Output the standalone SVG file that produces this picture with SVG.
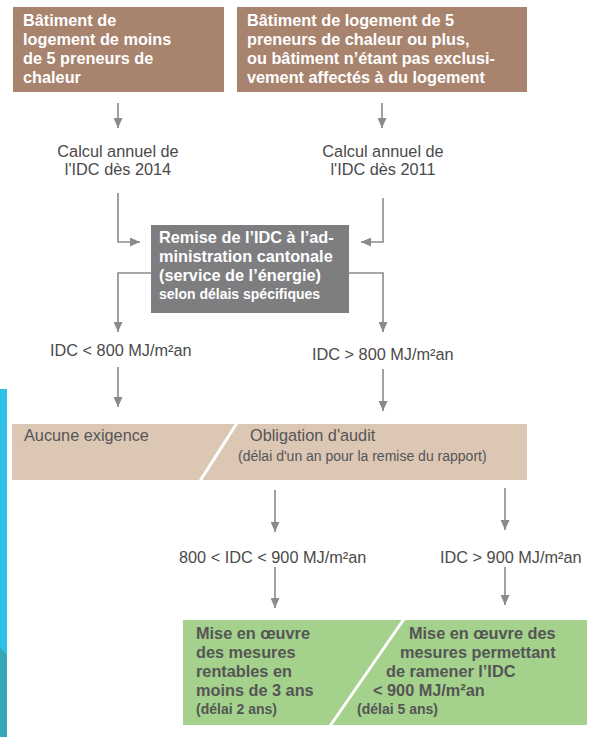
<svg xmlns="http://www.w3.org/2000/svg" width="589" height="737" viewBox="0 0 589 737">
<defs>
<marker id="ah" markerUnits="userSpaceOnUse" markerWidth="10" markerHeight="9" refX="10" refY="4.5" orient="auto">
<path d="M0,0 L10,4.5 L0,9 z" fill="#8a8a8c"/>
</marker>
<style>
.t{font-family:"Liberation Sans",Arial,sans-serif;font-size:16.3px}
.b{font-weight:bold}
.w{fill:#ffffff}
.g{fill:#4a4a4a}
.d{fill:#555555}
.s{font-size:14px}
.c{fill:none;stroke:#8a8a8c;stroke-width:1.6;marker-end:url(#ah)}
</style>
</defs>
<rect width="589" height="737" fill="#ffffff"/>
<g id="edge-strip">
<rect x="0" y="389" width="7" height="348" fill="#2fc0e7"/>
<polygon points="0,647 7,655 7,737 0,737" fill="#34a8b8"/>
</g>
<g id="connectors">
<path class="c" d="M118,103 V128"/>
<path class="c" d="M382,103 V128"/>
<path class="c" d="M118,193 V242 H140"/>
<path class="c" d="M383,198 V242 H361"/>
<path class="c" d="M151,273 H118 V332"/>
<path class="c" d="M349,273 H383 V332"/>
<path class="c" d="M118,367 V407"/>
<path class="c" d="M383,369 V411"/>
<path class="c" d="M275,490 V532"/>
<path class="c" d="M505,488 V530"/>
<path class="c" d="M275,567 V608"/>
<path class="c" d="M505,567 V605"/>
</g>
<g id="box-moins5">
<rect x="13" y="7" width="211" height="85" fill="#a8836d"/>
<text class="t b w" x="23" y="26">Bâtiment de</text>
<text class="t b w" x="23" y="45">logement de moins</text>
<text class="t b w" x="23" y="64">de 5 preneurs de</text>
<text class="t b w" x="23" y="83">chaleur</text>
</g>
<g id="box-plus5">
<rect x="237" y="7" width="290" height="85" fill="#a8836d"/>
<text class="t b w" x="247" y="26">Bâtiment de logement de 5</text>
<text class="t b w" x="247" y="45">preneurs de chaleur ou plus,</text>
<text class="t b w" x="247" y="64">ou bâtiment n’étant pas exclusi-</text>
<text class="t b w" x="247" y="83">vement affectés à du logement</text>
</g>
<g id="calc-2014">
<text class="t g" x="118" y="157" text-anchor="middle">Calcul annuel de</text>
<text class="t g" x="118" y="175" text-anchor="middle">l'IDC dès 2014</text>
</g>
<g id="calc-2011">
<text class="t g" x="383" y="157" text-anchor="middle">Calcul annuel de</text>
<text class="t g" x="383" y="175" text-anchor="middle">l'IDC dès 2011</text>
</g>
<g id="remise">
<rect x="151" y="225" width="198" height="88" fill="#7e7e80"/>
<text class="t b w" x="159" y="243">Remise de l’IDC à l’ad-</text>
<text class="t b w" x="159" y="262">ministration cantonale</text>
<text class="t b w" x="159" y="281">(service de l’énergie)</text>
<text class="t b w s" x="159" y="299">selon délais spécifiques</text>
</g>
<g id="idc-lt-800">
<text class="t g" x="50" y="356">IDC &lt; 800 MJ/m²an</text>
</g>
<g id="idc-gt-800">
<text class="t g" x="312" y="360">IDC &gt; 800 MJ/m²an</text>
</g>
<g id="exigence-audit">
<rect x="12" y="424" width="515" height="56" fill="#dcc7b5"/>
<line x1="237" y1="423" x2="200" y2="481" stroke="#ffffff" stroke-width="3"/>
<text class="t d" x="24" y="441">Aucune exigence</text>
<text class="t d" x="250" y="441">Obligation d'audit</text>
<text class="t d s" x="238" y="461">(délai d'un an pour la remise du rapport)</text>
</g>
<g id="idc-800-900">
<text class="t g" x="179" y="563">800 &lt; IDC &lt; 900 MJ/m²an</text>
</g>
<g id="idc-gt-900">
<text class="t g" x="440" y="563">IDC &gt; 900 MJ/m²an</text>
</g>
<g id="mesures">
<rect x="183" y="620" width="404" height="105" fill="#a4d18c"/>
<line x1="404" y1="619" x2="330" y2="726" stroke="#ffffff" stroke-width="3"/>
<text class="t b d" x="196" y="639">Mise en œuvre</text>
<text class="t b d" x="196" y="658">des mesures</text>
<text class="t b d" x="196" y="677">rentables en</text>
<text class="t b d" x="196" y="696">moins de 3 ans</text>
<text class="t b d s" x="196" y="714">(délai 2 ans)</text>
<text class="t b d" x="409" y="639">Mise en œuvre des</text>
<text class="t b d" x="400" y="658">mesures permettant</text>
<text class="t b d" x="386" y="677">de ramener l’IDC</text>
<text class="t b d" x="373" y="696">&lt; 900 MJ/m²an</text>
<text class="t b d s" x="357" y="714">(délai 5 ans)</text>
</g>
</svg>
